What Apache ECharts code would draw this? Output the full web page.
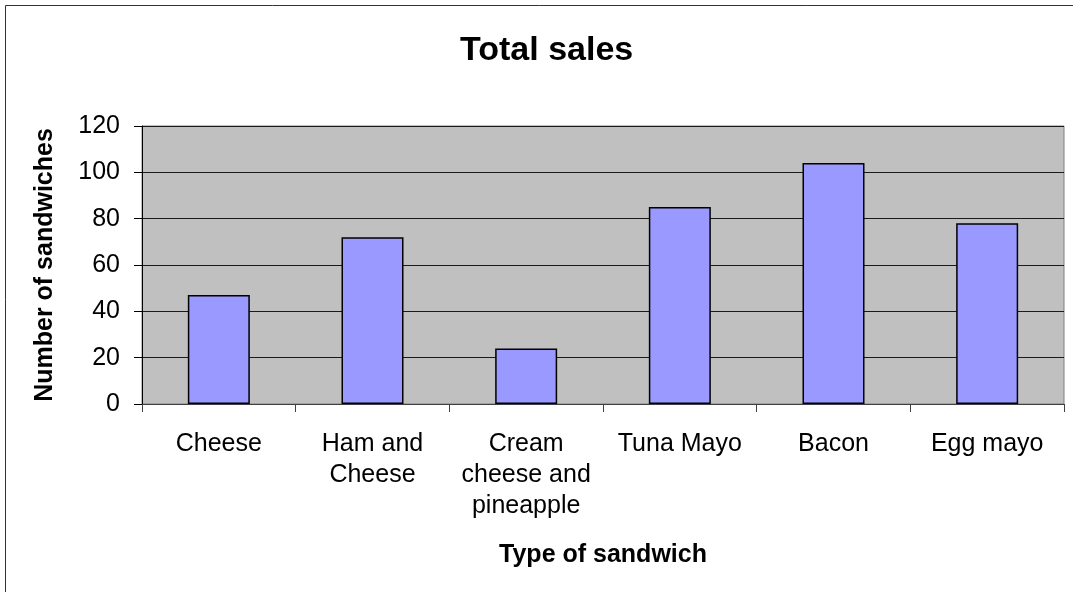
<!DOCTYPE html>
<html>
<head>
<meta charset="utf-8">
<script src="https://cdn.jsdelivr.net/npm/echarts@6/dist/echarts.min.js"></script>
<style>
html,body{margin:0;padding:0;background:#fff;}
#chart{width:1073px;height:592px;}
</style>
</head>
<body>
<div id="chart"></div>
<script>
const categories = ["Cheese", "Ham and\nCheese", "Cream\ncheese and\npineapple", "Tuna Mayo", "Bacon", "Egg mayo"];
const sales = [47, 72, 24, 85, 104, 78];
const yTicks = { min: 0, max: 120, interval: 20 };
const titleText = "Total sales";
const xName = "Type of sandwich";
const yName = "Number of sandwiches";

const font = "Arial, 'Liberation Sans', sans-serif";
const chart = echarts.init(document.getElementById('chart'), null, { renderer: 'canvas' });
chart.setOption({
  animation: false,
  backgroundColor: '#ffffff',
  graphic: [
    { type: 'rect', z: -10, silent: true,
      shape: { x: 5.5, y: 5.5, width: 1200, height: 800 },
      style: { fill: 'none', stroke: '#333333', lineWidth: 1 } }
  ],
  title: {
    text: titleText,
    left: 455, top: 29,
    textStyle: { fontFamily: font, fontSize: 34, fontWeight: 'bold', color: '#000', lineHeight: 34 }
  },
  grid: {
    left: 142, right: 9, top: 126, bottom: 188,
    show: true, backgroundColor: '#c0c0c0', borderColor: '#808080', borderWidth: 1
  },
  xAxis: {
    type: 'category',
    data: categories,
    name: xName,
    nameLocation: 'middle',
    nameGap: 139,
    nameTextStyle: { fontFamily: font, fontSize: 25, fontWeight: 'bold', color: '#000' },
    axisLine: { show: true, lineStyle: { color: '#404040', width: 1 } },
    axisTick: { show: true, alignWithLabel: false, length: 8, lineStyle: { color: '#404040' } },
    axisLabel: { interval: 0, margin: 25, fontFamily: font, fontSize: 25, color: '#000', lineHeight: 31 },
    splitLine: { show: false }
  },
  yAxis: {
    type: 'value',
    min: yTicks.min, max: yTicks.max, interval: yTicks.interval,
    name: yName,
    nameLocation: 'middle',
    nameGap: 84,
    nameRotate: 90,
    nameTextStyle: { fontFamily: font, fontSize: 25, fontWeight: 'bold', color: '#000' },
    axisLine: { show: true, lineStyle: { color: '#000', width: 1 } },
    axisTick: { show: true, length: 8, lineStyle: { color: '#000' } },
    axisLabel: { margin: 22, fontFamily: font, fontSize: 25, color: '#000' },
    splitLine: { show: true, lineStyle: { color: '#1a1a1a', width: 1 } }
  },
  series: [{
    type: 'bar',
    data: sales,
    barWidth: 62,
    itemStyle: { color: '#9999ff', borderColor: '#000', borderWidth: 1.5 }
  }]
});
</script>
</body>
</html>
